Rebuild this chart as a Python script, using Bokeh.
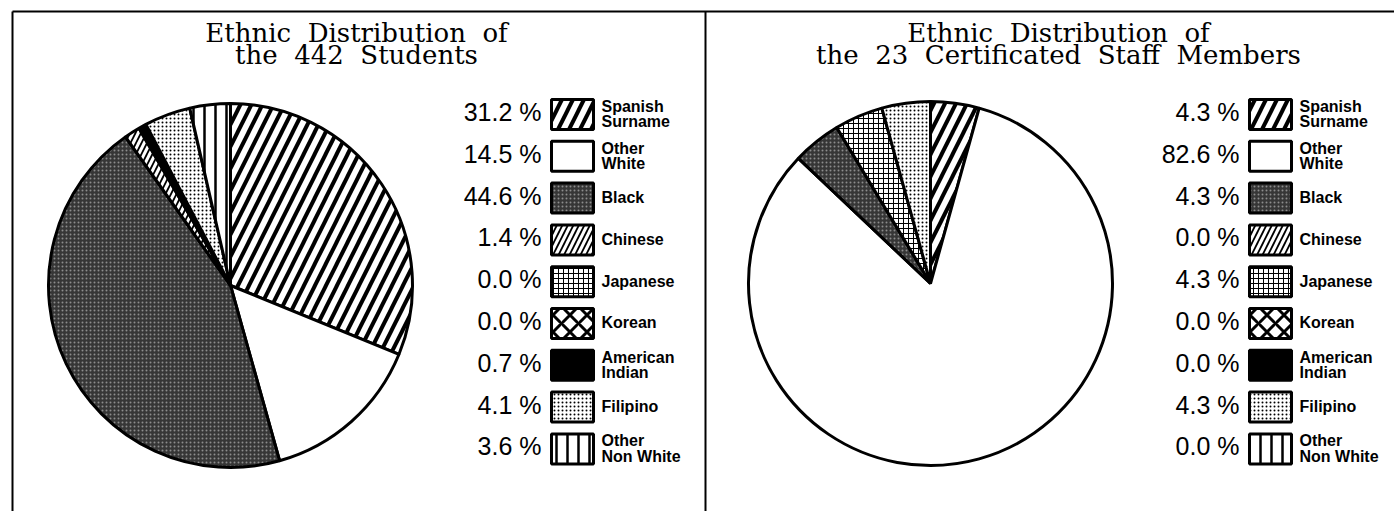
import math
from bokeh.plotting import figure
from bokeh.models import Range1d
from bokeh.core.properties import value
from bokeh.embed import file_html
from bokeh.resources import INLINE

# ---------------- data ----------------
categories = ["Spanish Surname", "Other White", "Black", "Chinese", "Japanese",
              "Korean", "American Indian", "Filipino", "Other Non White"]
label_lines = [["Spanish", "Surname"], ["Other", "White"], ["Black"], ["Chinese"],
               ["Japanese"], ["Korean"], ["American", "Indian"], ["Filipino"],
               ["Other", "Non White"]]
students_pct = [31.2, 14.5, 44.6, 1.4, 0.0, 0.0, 0.7, 4.1, 3.6]
staff_pct = [4.3, 82.6, 4.3, 0.0, 4.3, 0.0, 0.0, 4.3, 0.0]
title_students = ["Ethnic Distribution of", "the 442 Students"]
title_staff = ["Ethnic Distribution of", "the 23 Certificated Staff Members"]

# ---------------- styles ----------------
styles = {
    "Spanish Surname": dict(fill_color="white", hatch_pattern="/", hatch_color="black",
                            hatch_weight=4, hatch_scale=22),
    "Other White": dict(fill_color="white"),
    "Black": dict(fill_color="#363636", hatch_pattern="dot", hatch_color="#8c8c8c",
                  hatch_weight=1, hatch_scale=4),
    "Chinese": dict(fill_color="white", hatch_pattern="/", hatch_color="black",
                    hatch_weight=1.8, hatch_scale=11),
    "Japanese": dict(fill_color="white", hatch_pattern="+", hatch_color="black",
                     hatch_weight=1, hatch_scale=5),
    "Korean": dict(fill_color="white", hatch_pattern="x", hatch_color="black",
                   hatch_weight=3, hatch_scale=17),
    "American Indian": dict(fill_color="black"),
    "Filipino": dict(fill_color="white", hatch_pattern="dot", hatch_color="black",
                     hatch_weight=1, hatch_scale=4),
    "Other Non White": dict(fill_color="white", hatch_pattern="|", hatch_color="black",
                            hatch_weight=2.5, hatch_scale=11),
}

W, H = 1394, 511
SANS = value("Liberation Sans")
SERIF = value("DejaVu Serif")


def Y(y_img):
    # convert image pixel row to data y (y axis points up)
    return H - y_img


def base(y_img, fs):
    # place the text baseline at image row y_img for a font of size fs
    return Y(y_img - 0.38 * fs)


p = figure(width=W, height=H, output_backend="svg", toolbar_location=None,
           x_range=Range1d(0, W), y_range=Range1d(0, H),
           x_axis_type=None, y_axis_type=None, min_border=0,
           outline_line_color=None, background_fill_color="white",
           border_fill_color="white")
p.grid.visible = False

# frame lines
p.multi_line(xs=[[12, 1394], [12, 12], [705, 705]],
             ys=[[Y(11), Y(11)], [Y(11), Y(520)], [Y(11), Y(520)]],
             line_color="black", line_width=2)


def panel(pcts, title, cx, cy, r, title_cx, box_cx):
    total = sum(pcts)
    cum = 0.0
    for cat, v in zip(categories, pcts):
        c0 = cum / total
        cum += v
        c1 = cum / total
        if v <= 0:
            continue
        p.wedge(x=[cx], y=[Y(cy)], radius=r,
                start_angle=math.pi / 2 - 2 * math.pi * c1,
                end_angle=math.pi / 2 - 2 * math.pi * c0,
                line_color="black", line_width=3, **styles[cat])
    # title
    tl = ["\u00a0\u00a0".join(t.split(" ")) for t in title]
    p.text(x=[title_cx, title_cx], y=[base(42, 26), base(64, 26)], text=tl,
           text_font=SERIF, text_font_size="26px", text_align="center",
           text_baseline="alphabetic", text_color="black")
    # legend
    y0, step = 114, 41.8
    for i, (cat, v) in enumerate(zip(categories, pcts)):
        yc = y0 + i * step
        p.rect(x=[box_cx], y=[Y(yc)], width=42, height=30,
               line_color="black", line_width=3, **styles[cat])
        p.text(x=[box_cx - 31], y=[base(yc + 7, 25)], text=[f"{v:.1f} %"],
               text_font=SANS, text_font_size="25px", text_align="right",
               text_baseline="alphabetic", text_color="black")
        lines = label_lines[i]
        if len(lines) == 1:
            ys = [base(yc + 5.5, 16)]
        else:
            ys = [base(yc - 2, 16), base(yc + 13.5, 16)]
        p.text(x=[box_cx + 29] * len(lines), y=ys, text=lines,
               text_font=SANS, text_font_size="16px", text_font_style="bold",
               text_align="left", text_baseline="alphabetic", text_color="black")


panel(students_pct, title_students, 230, 285, 182, 356, 572)
panel(staff_pct, title_staff, 930, 283, 182, 1058, 1270)

open("out.html", "w").write(file_html(p, INLINE))
